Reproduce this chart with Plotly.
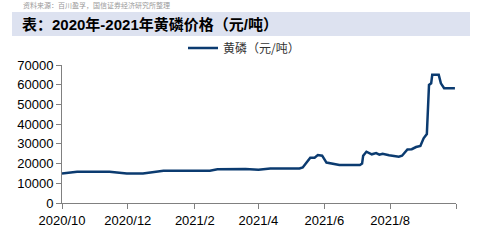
import plotly.graph_objects as go

dates = ["2020-10-01","2020-10-08","2020-10-15","2020-11-14","2020-11-24","2020-11-30",
         "2020-12-15","2020-12-22","2020-12-26","2021-01-03","2021-01-30","2021-02-15",
         "2021-02-22","2021-03-08","2021-03-20","2021-04-01","2021-04-12","2021-05-09",
         "2021-05-12","2021-05-19","2021-05-23","2021-05-26","2021-05-30","2021-06-03",
         "2021-06-12","2021-06-15","2021-07-04","2021-07-06","2021-07-07","2021-07-10",
         "2021-07-15","2021-07-19","2021-07-22","2021-07-25","2021-07-31","2021-08-09",
         "2021-08-12","2021-08-17","2021-08-21","2021-08-25","2021-08-29","2021-09-01",
         "2021-09-04","2021-09-06","2021-09-08","2021-09-09","2021-09-15","2021-09-17",
         "2021-09-20","2021-09-30"]
prices = [15000,15300,15800,15800,15300,15000,
          15000,15400,15800,16300,16300,16400,
          17100,17300,17200,16900,17500,17500,
          18000,23000,23000,24300,24000,20500,
          19600,19300,19300,20000,24000,26000,
          24700,25300,24500,25000,24200,23500,
          24000,27200,27300,28400,28900,32800,
          35000,59900,60700,65000,65000,60700,
          58200,58200]

tick_vals = ["2020-10-01","2020-12-01","2021-02-01","2021-04-01","2021-06-01","2021-08-01","2021-10-01"]
tick_text = ["2020/10","2020/12","2021/2","2021/4","2021/6","2021/8",""]
y_ticks = [0,10000,20000,30000,40000,50000,60000,70000]
y_tick_text = [str(v) for v in y_ticks]

series_name = "黄磷（元/吨）"
title_text = "表：2020年-2021年黄磷价格（元/吨）"
source_text = "资料来源：百川盈孚，国信证券经济研究所整理"

fig = go.Figure()
fig.add_trace(go.Scatter(x=dates, y=prices, mode="lines", name=series_name,
                         line=dict(color="#0b3b70", width=2.5)))

L, R, T, B = 62, 24, 65, 38
W, H = 480, 241
pw, ph = W - L - R, H - T - B
def px(x): return (x - L) / pw
def py(y): return 1 + (T - y) / ph

fig.update_layout(
    width=W, height=H,
    margin=dict(l=L, r=R, t=T, b=B),
    paper_bgcolor="white", plot_bgcolor="white",
    font=dict(family="Liberation Sans, Arial, Noto Sans CJK SC", color="#000"),
    showlegend=True,
    legend=dict(orientation="h", x=px(244), xanchor="center", y=py(48), yanchor="middle",
                font=dict(size=12, color="#333", family="Noto Sans CJK SC"),
                bgcolor="rgba(0,0,0,0)", itemwidth=30),
    xaxis=dict(type="date", range=["2020-10-01","2021-10-01"], tickvals=tick_vals,
               ticktext=tick_text, showgrid=False, showline=True, linecolor="#808080",
               linewidth=1, ticks="outside", ticklen=5, tickcolor="#808080",
               tickfont=dict(size=13), zeroline=False),
    yaxis=dict(range=[0,70000], tickvals=y_ticks, ticktext=y_tick_text, showgrid=False,
               showline=True, linecolor="#808080", linewidth=1, ticks="outside", ticklen=5,
               tickcolor="#808080", tickfont=dict(size=13), zeroline=False),
    shapes=[dict(type="rect", xref="paper", yref="paper", x0=px(12), x1=px(470),
                 y0=py(36), y1=py(12), fillcolor="#dde2f0", line=dict(width=0), layer="below")],
    annotations=[
        dict(text="<b>" + title_text + "</b>", xref="paper", yref="paper", x=px(20), y=py(24),
             xanchor="left", yanchor="middle", showarrow=False,
             font=dict(size=15, color="#000", family="Liberation Sans, Noto Sans CJK SC")),
        dict(text=source_text, xref="paper", yref="paper", x=px(22), y=py(-1),
             xanchor="left", yanchor="top", showarrow=False, borderpad=0,
             font=dict(size=7, color="#999", family="Noto Sans CJK SC")),
    ],
)
fig.write_html("out.html")
